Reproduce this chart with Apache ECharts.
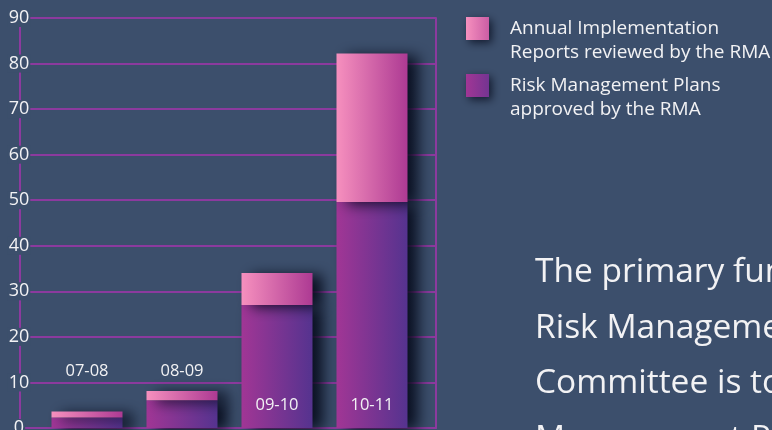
<!DOCTYPE html>
<html>
<head>
<meta charset="utf-8">
<script src="https://cdn.jsdelivr.net/npm/echarts@6/dist/echarts.min.js"></script>
<style>
  html, body { margin: 0; padding: 0; background: #3c4f6c; overflow: hidden; }
  #chart { width: 772px; height: 430px; }
</style>
</head>
<body>
<div id="chart"></div>
<script>
// Financial years shown on the category axis
const years = ['07-08', '08-09', '09-10', '10-11'];
// Risk Management Plans approved (bottom segment of each bar)
const plansApproved = [2.3, 6.1, 27, 49.6];
// Annual Implementation Reports reviewed (top segment of each bar)
const reportsReviewed = [1.3, 2, 7, 32.6];
// Value axis range and step
const yMin = 0;
const yMax = 90;
const yStep = 10;
// Series names as they read in the legend
const nameReports = 'Annual Implementation\nReports reviewed by the RMA';
const namePlans = 'Risk Management Plans\napproved by the RMA';
// Introductory paragraph to the right of the chart
const paragraph = [
  'The primary function of the',
  'Risk Management Accreditation',
  'Committee is to approve Risk',
  'Management Plans'
];

const BG = '#3c4f6c';
const LINE = '#8c3a9e';
const TEXT = '#f2f2f4';
const FONT = 'Open Sans';

const purpleFill = new echarts.graphic.LinearGradient(0, 0, 1, 0, [
  { offset: 0, color: '#a13695' },
  { offset: 1, color: '#55338f' }
]);
const pinkFill = new echarts.graphic.LinearGradient(0, 0, 1, 0, [
  { offset: 0, color: '#f690be' },
  { offset: 1, color: '#ad3a93' }
]);
const barShadow = {
  shadowColor: 'rgba(2, 6, 22, 0.88)',
  shadowBlur: 14,
  shadowOffsetX: 10,
  shadowOffsetY: 2
};

const chart = echarts.init(document.getElementById('chart'), null, { renderer: 'canvas' });

chart.setOption({
  backgroundColor: BG,
  animation: false,
  textStyle: { fontFamily: FONT },
  grid: [
    // frame with the horizontal rules
    { left: 20, right: 336, top: 18, bottom: 2, containLabel: false, outerBoundsMode: 'none' },
    // area holding the bars
    { left: 39.5, right: 352.5, top: 18, bottom: 2, containLabel: false, outerBoundsMode: 'none' }
  ],
  legend: {
    orient: 'vertical',
    left: 466,
    top: 15,
    padding: 0,
    itemGap: 5,
    itemWidth: 39,
    itemHeight: 48,
    icon: 'path://M0,0H23V23H0Z M39,48',
    selectedMode: false,
    itemStyle: {
      shadowColor: 'rgba(2, 6, 22, 0.7)',
      shadowBlur: 8,
      shadowOffsetX: 3,
      shadowOffsetY: 3
    },
    textStyle: { color: TEXT, fontSize: 19, lineHeight: 24, fontFamily: FONT, padding: [4, 0, 0, 0] },
    data: [nameReports, namePlans]
  },
  xAxis: [
    {
      gridIndex: 0,
      type: 'category',
      data: years,
      axisLine: { show: true, lineStyle: { color: LINE, width: 2 } },
      axisTick: { show: false },
      axisLabel: { show: false },
      splitLine: { show: false }
    },
    {
      gridIndex: 1,
      type: 'category',
      data: years,
      z: 6,
      axisLine: { show: false },
      axisTick: { show: false },
      splitLine: { show: false },
      axisLabel: {
        inside: true,
        interval: 0,
        hideOverlap: false,
        margin: 14,
        color: TEXT,
        fontSize: 16.5,
        fontFamily: FONT,
        formatter: function (value, i) {
          const total = plansApproved[i] + reportsReviewed[i];
          return total < 15 ? '{hi|' + value + '}' : '{lo|' + value + '}';
        },
        rich: {
          hi: { color: TEXT, fontSize: 16.5, fontFamily: FONT, padding: [0, 0, 34, 0] },
          lo: { color: TEXT, fontSize: 16.5, fontFamily: FONT }
        }
      }
    }
  ],
  yAxis: [
    {
      gridIndex: 0,
      type: 'value',
      min: yMin,
      max: yMax,
      interval: yStep,
      axisLine: { show: true, lineStyle: { color: LINE, width: 2 } },
      axisTick: { show: false },
      axisLabel: { show: false },
      splitLine: { show: true, lineStyle: { color: LINE, width: 2 } }
    },
    {
      gridIndex: 0,
      type: 'value',
      position: 'right',
      min: yMin,
      max: yMax,
      interval: yStep,
      axisLine: { show: true, lineStyle: { color: LINE, width: 2 } },
      axisTick: { show: false },
      axisLabel: { show: false },
      splitLine: { show: false }
    },
    {
      gridIndex: 1,
      type: 'value',
      min: yMin,
      max: yMax,
      interval: yStep,
      offset: 19.5,
      z: 6,
      axisLine: { show: false },
      axisTick: { show: false },
      splitLine: { show: false },
      axisLabel: {
        margin: 1,
        align: 'center',
        color: TEXT,
        fontSize: 18,
        fontFamily: FONT,
        backgroundColor: BG,
        padding: [0, 1]
      }
    }
  ],
  series: [
    {
      name: namePlans,
      type: 'bar',
      stack: 'total',
      xAxisIndex: 1,
      yAxisIndex: 2,
      barWidth: 71,
      data: plansApproved,
      itemStyle: Object.assign({ color: purpleFill }, barShadow)
    },
    {
      name: nameReports,
      type: 'bar',
      stack: 'total',
      xAxisIndex: 1,
      yAxisIndex: 2,
      barWidth: 71,
      data: reportsReviewed,
      itemStyle: Object.assign({ color: pinkFill }, barShadow)
    }
  ],
  graphic: [
    {
      type: 'text',
      left: 535,
      top: 245,
      silent: true,
      style: {
        text: paragraph.join('\n'),
        fill: TEXT,
        fontSize: 33.5,
        fontFamily: FONT,
        lineHeight: 55.5
      }
    }
  ]
});
</script>
</body>
</html>
